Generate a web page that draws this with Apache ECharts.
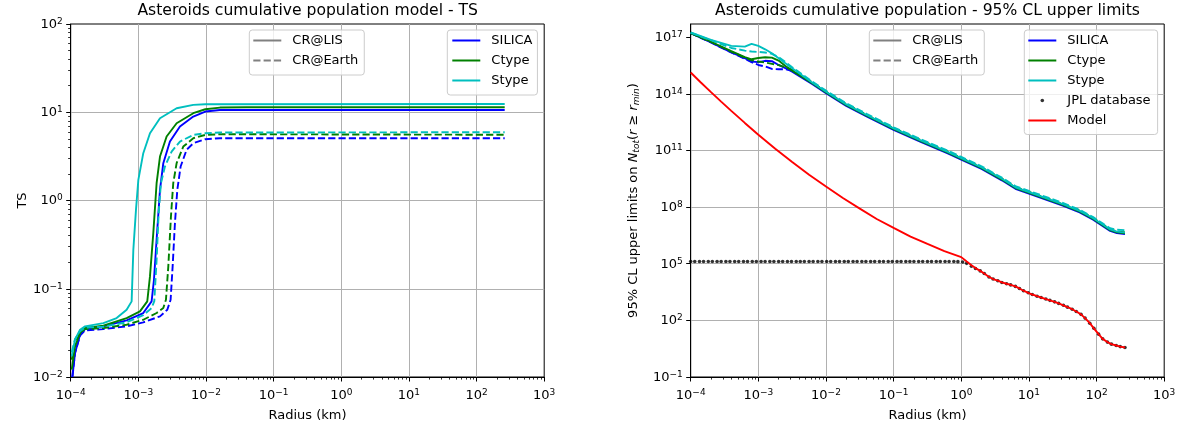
<!DOCTYPE html>
<html><head><meta charset="utf-8">
<script src="https://cdn.jsdelivr.net/npm/echarts@6/dist/echarts.min.js"></script>
<style>html,body{margin:0;padding:0;background:#fff}#c{width:1182px;height:429px}</style>
</head><body><div id="c"></div>
<script>
// ---------- DATA (log10 radius in km, log10 of quantity) ----------
// Left panel: TS vs radius, [log10 r, log10 TS]
const tsLisSilica = [[-3.975,-2.0],[-3.936,-1.728],[-3.862,-1.521],[-3.788,-1.457],[-3.517,-1.426],[-3.173,-1.358],[-2.927,-1.275],[-2.804,-1.143],[-2.769,-0.898],[-2.73,-0.445],[-2.68,0.121],[-2.631,0.423],[-2.533,0.668],[-2.385,0.838],[-2.188,0.951],[-2.01,1.008],[-1.794,1.026],[-1.0,1.026],[2.416,1.026]];
const tsEarthSilica = [[-3.975,-2.0],[-3.936,-1.728],[-3.862,-1.532],[-3.788,-1.472],[-3.517,-1.457],[-3.173,-1.426],[-2.927,-1.381],[-2.68,-1.313],[-2.572,-1.238],[-2.523,-1.125],[-2.493,-0.747],[-2.459,-0.257],[-2.424,0.121],[-2.375,0.385],[-2.287,0.574],[-2.188,0.649],[-2.01,0.694],[-1.794,0.706],[2.416,0.706]];
const tsLisCtype = [[-3.985,-1.917],[-3.936,-1.653],[-3.862,-1.502],[-3.788,-1.445],[-3.517,-1.419],[-3.173,-1.332],[-2.976,-1.257],[-2.868,-1.143],[-2.828,-0.86],[-2.779,-0.37],[-2.73,0.196],[-2.68,0.498],[-2.582,0.725],[-2.434,0.875],[-2.188,0.989],[-2.01,1.034],[-1.794,1.053],[-1.4,1.057],[2.416,1.057]];
const tsEarthCtype = [[-3.985,-1.804],[-3.936,-1.615],[-3.862,-1.502],[-3.788,-1.457],[-3.517,-1.445],[-3.173,-1.408],[-2.927,-1.351],[-2.73,-1.275],[-2.631,-1.219],[-2.592,-1.125],[-2.557,-0.747],[-2.518,-0.181],[-2.484,0.196],[-2.434,0.423],[-2.336,0.611],[-2.188,0.706],[-2.01,0.743],[-1.794,0.751],[2.416,0.745]];
const tsLisStype = [[-3.985,-1.766],[-3.936,-1.577],[-3.862,-1.464],[-3.788,-1.426],[-3.517,-1.389],[-3.321,-1.332],[-3.173,-1.238],[-3.099,-1.143],[-3.074,-0.558],[-3.035,-0.106],[-3.0,0.234],[-2.927,0.536],[-2.828,0.762],[-2.68,0.932],[-2.434,1.045],[-2.188,1.083],[-2.01,1.091],[2.416,1.094]];
const tsEarthStype = [[-3.985,-1.72],[-3.936,-1.57],[-3.862,-1.48],[-3.788,-1.44],[-3.517,-1.43],[-3.173,-1.38],[-2.927,-1.3],[-2.804,-1.22],[-2.764,-1.14],[-2.73,-0.672],[-2.7,-0.143],[-2.666,0.196],[-2.607,0.385],[-2.508,0.555],[-2.385,0.668],[-2.188,0.743],[-2.01,0.762],[-1.794,0.770],[2.416,0.774]];

// Right panel: upper limits, log10 r grid and log10 N values
const upperLogR = [-4,-3.7,-3.4,-3.2,-3.1,-3.0,-2.9,-2.8,-2.7,-2.6,-2.5,-2.2,-2.0,-1.7,-1.4,-1.0,-0.6,-0.2,0,0.3,0.6,0.8,1.0,1.25,1.5,1.75,1.95,2.1,2.2,2.3,2.42];
const ulLisSilica   = [17.21,16.73,16.20,15.89,15.71,15.68,15.75,15.73,15.53,15.36,15.18,14.51,14.03,13.36,12.80,12.09,11.46,10.85,10.52,10.02,9.42,8.97,8.72,8.40,8.08,7.72,7.33,6.97,6.74,6.62,6.57];
const ulEarthSilica = [17.21,16.72,16.19,15.86,15.68,15.53,15.45,15.32,15.30,15.30,15.23,14.57,14.09,13.42,12.86,12.15,11.52,10.91,10.58,10.08,9.48,9.03,8.78,8.46,8.14,7.78,7.39,7.03,6.80,6.68,6.63];
const ulLisCtype    = [17.22,16.76,16.26,15.95,15.83,15.90,15.94,15.92,15.76,15.48,15.23,14.55,14.07,13.40,12.84,12.13,11.50,10.89,10.56,10.06,9.46,9.01,8.76,8.44,8.12,7.76,7.37,7.01,6.78,6.66,6.61];
const ulEarthCtype  = [17.22,16.75,16.23,15.92,15.78,15.71,15.66,15.59,15.52,15.41,15.27,14.60,14.12,13.45,12.89,12.18,11.55,10.94,10.61,10.11,9.51,9.06,8.81,8.49,8.17,7.81,7.42,7.06,6.83,6.71,6.66];
const ulLisStype    = [17.25,16.86,16.54,16.50,16.65,16.54,16.36,16.15,15.89,15.62,15.36,14.59,14.11,13.44,12.88,12.17,11.54,10.93,10.60,10.10,9.50,9.05,8.80,8.48,8.16,7.80,7.41,7.05,6.82,6.70,6.65];
const ulEarthStype  = [17.24,16.84,16.43,16.29,16.24,16.22,16.19,16.12,15.94,15.69,15.41,14.65,14.17,13.50,12.94,12.23,11.60,10.99,10.66,10.16,9.56,9.11,8.86,8.54,8.22,7.86,7.47,7.11,6.88,6.80,6.78];

const jplLogR = [-4.00,-3.94,-3.87,-3.81,-3.74,-3.68,-3.61,-3.55,-3.48,-3.42,-3.35,-3.29,-3.22,-3.16,-3.09,-3.03,-2.96,-2.90,-2.83,-2.77,
 -2.70,-2.64,-2.57,-2.51,-2.44,-2.38,-2.32,-2.25,-2.19,-2.12,-2.06,-1.99,-1.93,-1.86,-1.80,-1.73,-1.67,-1.60,-1.54,-1.47,
 -1.41,-1.34,-1.28,-1.21,-1.15,-1.08,-1.02,-0.95,-0.89,-0.82,-0.76,-0.70,-0.63,-0.57,-0.50,-0.44,-0.37,-0.31,-0.24,-0.18,
 -0.11,-0.05,0.02,0.08,0.15,0.21,0.28,0.34,0.41,0.47,0.54,0.60,0.67,0.73,0.80,0.86,0.92,0.99,1.05,1.12,
 1.18,1.25,1.31,1.38,1.44,1.51,1.57,1.64,1.70,1.77,1.83,1.90,1.96,2.03,2.09,2.16,2.22,2.29,2.35,2.42];
const jplLogN = [5.12,5.12,5.12,5.12,5.12,5.12,5.12,5.12,5.12,5.12,5.12,5.12,5.12,5.12,5.12,5.12,5.12,5.12,5.12,5.12,
 5.12,5.12,5.12,5.12,5.12,5.12,5.12,5.12,5.12,5.12,5.12,5.12,5.12,5.12,5.12,5.12,5.12,5.12,5.12,5.12,
 5.12,5.12,5.12,5.12,5.12,5.12,5.12,5.12,5.12,5.12,5.12,5.12,5.12,5.12,5.12,5.12,5.12,5.12,5.12,5.12,
 5.12,5.11,5.09,5.02,4.87,4.75,4.62,4.48,4.30,4.19,4.10,4.01,3.94,3.88,3.80,3.69,3.57,3.46,3.37,3.28,
 3.21,3.13,3.06,2.98,2.90,2.80,2.70,2.59,2.47,2.32,2.12,1.85,1.58,1.27,1.02,0.85,0.74,0.67,0.61,0.56];

const modelLogR = [-4,-3.85,-3.7,-3.55,-3.4,-3.2,-3.0,-2.75,-2.5,-2.25,-2.0,-1.75,-1.5,-1.25,-1.0,-0.75,-0.5,-0.25,0,0.08,0.15,0.21,0.28,0.34,0.41,0.47,0.54,0.60,0.67,0.73,0.80,0.86,0.92,0.99,1.05,1.12,1.18,1.25,1.31,1.38,1.44,1.51,1.57,1.64,1.70,1.77,1.83,1.90,1.96,2.03,2.09,2.16,2.22,2.29,2.35,2.42];
const modelLogN = [15.13,14.60,14.09,13.59,13.10,12.46,11.83,11.09,10.39,9.71,9.09,8.48,7.92,7.37,6.90,6.44,6.05,5.67,5.35,5.12,4.92,4.77,4.62,4.48,4.30,4.19,4.10,4.01,3.94,3.88,3.80,3.69,3.57,3.46,3.37,3.28,3.21,3.13,3.06,2.98,2.90,2.80,2.70,2.59,2.47,2.32,2.12,1.85,1.58,1.27,1.02,0.85,0.74,0.67,0.61,0.56];

// tick values (log10)
const xTicks = [-4,-3,-2,-1,0,1,2,3];
const leftYTicks = [-2,-1,0,1,2];
const rightYTicks = [-1,2,5,8,11,14,17];

// ---------- STYLE ----------
const FONT = 'DejaVu Sans';
const BLUE = '#0000ff', GREEN = '#008000', CYAN = '#00bfbf', RED = '#ff0000', GRAY = '#808080';
const LW = 1.9, DASH = [7.2, 3.1];
const Y_OFF = 1; // right axis stores log10(N) + 1 so that min sits on a multiple of the interval

function minorTicks(lo, hi) {
  const out = [];
  for (let n = lo; n < hi; n++) for (let k = 2; k <= 9; k++) out.push(n + Math.log10(k));
  return out;
}
function pow10(v) {
  const e = Math.round(v);
  return '{b|10}{s|' + (e < 0 ? '\u2212' + (-e) : e) + '}';
}
const RICH = {
  b: {fontFamily: FONT, fontSize: 13, color: '#000', lineHeight: 14, padding: [2.5, 0, 0, 0], verticalAlign: 'bottom'},
  s: {fontFamily: FONT, fontSize: 9, color: '#000', lineHeight: 10, verticalAlign: 'top'}
};
const nameStyle = {fontFamily: FONT, fontSize: 13, color: '#000'};
const splitLine = {show: true, showMinLine: false, showMaxLine: false, lineStyle: {color: '#b0b0b0', width: 1}};
const majorTick = {show: true, length: 4.5, lineStyle: {color: '#000', width: 1}};
const axisLine = {show: true, onZero: false, lineStyle: {color: '#000', width: 1}};

function mainX(gi) {
  return {gridIndex: gi, type: 'value', min: -4, max: 3, interval: 1, position: 'bottom',
    axisLine: axisLine, axisTick: Object.assign({}, majorTick, {customValues: xTicks}), splitLine: splitLine,
    axisLabel: {margin: 11, customValues: xTicks, formatter: pow10, rich: RICH},
    name: 'Radius (km)', nameLocation: 'middle', nameGap: 32, nameTextStyle: nameStyle};
}
function minorAxis(gi, lo, hi, pos) {
  return {gridIndex: gi, type: 'value', min: lo, max: hi, position: pos,
    axisLine: {show: false, onZero: false}, axisLabel: {show: false}, splitLine: {show: false},
    axisTick: {show: true, length: 2.6, customValues: minorTicks(lo, hi), lineStyle: {color: '#000', width: 0.8}}};
}

function lineS(name, data, color, dashed, xi, yi) {
  return {name: name, type: 'line', xAxisIndex: xi, yAxisIndex: yi, data: data, symbol: 'none',
    color: color, lineStyle: {color: color, width: LW, type: dashed ? DASH : 'solid'},
    silent: true, animation: false, z: 2};
}
const shiftR = (arr) => upperLogR.map((x, i) => [x, arr[i] + Y_OFF]);

const series = [
  lineS('CR@LIS', [], GRAY, false, 0, 0),
  lineS('CR@Earth', [], GRAY, true, 0, 0),
  lineS('SILICA', tsLisSilica, BLUE, false, 0, 0),
  lineS('SILICA', tsEarthSilica, BLUE, true, 0, 0),
  lineS('Ctype', tsLisCtype, GREEN, false, 0, 0),
  lineS('Ctype', tsEarthCtype, GREEN, true, 0, 0),
  lineS('Stype', tsLisStype, CYAN, false, 0, 0),
  lineS('Stype', tsEarthStype, CYAN, true, 0, 0),
  lineS('SILICA', shiftR(ulLisSilica), BLUE, false, 1, 1),
  lineS('SILICA', shiftR(ulEarthSilica), BLUE, true, 1, 1),
  lineS('Ctype', shiftR(ulLisCtype), GREEN, false, 1, 1),
  lineS('Ctype', shiftR(ulEarthCtype), GREEN, true, 1, 1),
  lineS('Stype', shiftR(ulLisStype), CYAN, false, 1, 1),
  lineS('Stype', shiftR(ulEarthStype), CYAN, true, 1, 1),
  {name: 'JPL database', type: 'scatter', xAxisIndex: 1, yAxisIndex: 1, symbol: 'circle', symbolSize: 3.6,
   itemStyle: {color: '#000'}, data: jplLogR.map((x, i) => [x, jplLogN[i] + Y_OFF]), silent: true, animation: false, z: 3},
  Object.assign(lineS('Model', modelLogR.map((x, i) => [x, modelLogN[i] + Y_OFF]), RED, false, 1, 1), {z: 4})
];

// legend handles drawn as filled paths inside a 28x13 box
const SOLID_ICON = 'path://M0,0M28,13M0,5.5h28v2h-28z';
const DASH_ICON = 'path://M0,0M28,13M0,5.5h7.2v2h-7.2zM10.3,5.5h7.2v2h-7.2zM20.6,5.5h7.2v2h-7.2z';
const DOT_ICON = 'path://M0,0M28,13M12.2,6.5a1.8,1.8 0 1,0 3.6,0a1.8,1.8 0 1,0 -3.6,0z';
const legendCommon = {orient: 'vertical', itemWidth: 28, itemHeight: 13, itemGap: 7, selectedMode: false, icon: SOLID_ICON,
  backgroundColor: 'rgba(255,255,255,0.8)', borderColor: '#cccccc', borderWidth: 1, borderRadius: 3,
  textStyle: {fontFamily: FONT, fontSize: 13, color: '#000', lineHeight: 13, padding: [0, 0, 0, 6]}};
const crItems = [{name: 'CR@LIS', icon: SOLID_ICON}, {name: 'CR@Earth', icon: DASH_ICON}];

const option = {
  backgroundColor: '#fff',
  animation: false,
  title: [
    {text: 'Asteroids cumulative population model - TS', left: 307.7, top: 3, textAlign: 'center', padding: 0,
     textStyle: {fontFamily: FONT, fontSize: 15.6, fontWeight: 'normal', color: '#000'}},
    {text: 'Asteroids cumulative population - 95% CL upper limits', left: 927.5, top: 3, textAlign: 'center', padding: 0,
     textStyle: {fontFamily: FONT, fontSize: 15.6, fontWeight: 'normal', color: '#000'}}
  ],
  legend: [
    Object.assign({}, legendCommon, {data: crItems, left: 249.3, top: 30, padding: [4, 6, 8, 4]}),
    Object.assign({}, legendCommon, {data: ['SILICA', 'Ctype', 'Stype'], left: 447.3, top: 30, padding: [4, 5, 8, 5]}),
    Object.assign({}, legendCommon, {data: crItems, left: 869.3, top: 30, padding: [4, 6, 8, 4]}),
    Object.assign({}, legendCommon, {data: ['SILICA', 'Ctype', 'Stype', {name: 'JPL database', icon: DOT_ICON}, 'Model'],
      left: 1024.3, top: 30, padding: [4, 7, 7.5, 4]})
  ],
  grid: [
    {left: 70.7, top: 24, width: 473.5, height: 353, show: true, borderColor: '#000', borderWidth: 1, outerBoundsMode: 'none', containLabel: false},
    {left: 690.7, top: 24, width: 473.5, height: 353, show: true, borderColor: '#000', borderWidth: 1, outerBoundsMode: 'none', containLabel: false}
  ],
  xAxis: [
    mainX(0), mainX(1),
    minorAxis(0, -4, 3, 'bottom'), minorAxis(1, -4, 3, 'bottom')
  ],
  yAxis: [
    {gridIndex: 0, type: 'value', min: -2, max: 2, interval: 1, position: 'left',
     axisLine: axisLine, axisTick: Object.assign({}, majorTick, {customValues: leftYTicks}), splitLine: splitLine,
     axisLabel: {margin: 8, customValues: leftYTicks, formatter: pow10, rich: RICH},
     name: 'TS', nameLocation: 'middle', nameGap: 23, nameTextStyle: nameStyle},
    {gridIndex: 1, type: 'value', min: 0, max: 18.7, interval: 3, position: 'left',
     axisLine: axisLine,
     axisTick: Object.assign({}, majorTick, {customValues: rightYTicks.map(v => v + Y_OFF)}),
     splitLine: splitLine,
     axisLabel: {margin: 8, customValues: rightYTicks.map(v => v + Y_OFF),
       formatter: v => pow10(v - Y_OFF), rich: RICH},
     name: '95% CL upper limits on {i|N}{sub|tot}({i|r} \u2265 {i|r}{sub|min})',
     nameLocation: 'middle', nameGap: 50,
     nameTextStyle: {fontFamily: FONT, fontSize: 13, color: '#000', lineHeight: 15,
       rich: {i: {fontFamily: FONT, fontSize: 13, fontStyle: 'italic', color: '#000', lineHeight: 15},
              sub: {fontFamily: FONT, fontSize: 9, fontStyle: 'italic', color: '#000', lineHeight: 9, verticalAlign: 'bottom'}}}},
    minorAxis(0, -2, 2, 'left')
  ],
  series: series
};
const chart = echarts.init(document.getElementById('c'), null, {renderer: 'canvas'});
chart.setOption(option);
</script></body></html>
